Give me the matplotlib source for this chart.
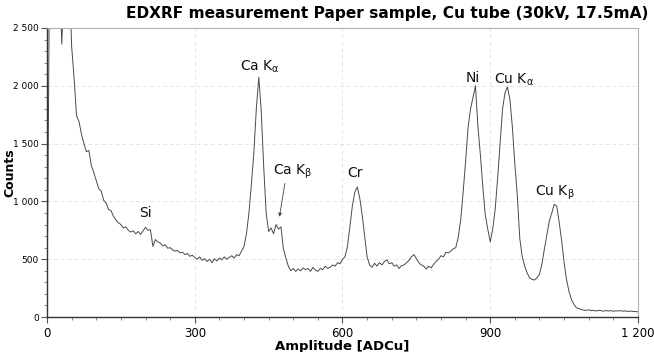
import numpy as np
import matplotlib
matplotlib.use("Agg")
import matplotlib.pyplot as plt
from matplotlib.ticker import FuncFormatter, MultipleLocator

plt.rcParams["mathtext.default"] = "regular"

# spectrum, one value every 5 channels (0..1200)
channel = np.arange(0, 1205, 5)
counts = [
    0, 3000, 3000, 3000, 3000, 3000, 2360, 3000, 3000, 3000,          # 0-45
    2340, 2060, 1740, 1690, 1580, 1500, 1430, 1440, 1310, 1250,       # 50-95
    1180, 1110, 1090, 1010, 985, 930, 920, 870, 840, 815,             # 100-145
    800, 770, 780, 750, 735, 745, 720, 740, 715, 745,                 # 150-195
    775, 750, 755, 610, 670, 650, 640, 615, 625, 595,                 # 200-245
    600, 580, 570, 575, 555, 560, 540, 550, 525, 535,                 # 250-295
    515, 500, 520, 490, 505, 480, 500, 470, 505, 485,                 # 300-345
    510, 495, 520, 500, 515, 530, 510, 540, 530, 570,                 # 350-395
    610, 720, 900, 1150, 1420, 1800, 2075, 1780, 1300, 900,           # 400-445
    740, 770, 720, 800, 760, 780, 590, 510, 440, 400,                 # 450-495
    420, 395, 415, 400, 425, 410, 420, 395, 430, 405,                 # 500-545
    395, 420, 410, 440, 420, 430, 450, 440, 470, 460,                 # 550-595
    500, 520, 610, 780, 960, 1080, 1125, 1030, 880, 700,              # 600-645
    520, 450, 430, 465, 440, 470, 450, 480, 495, 460,                 # 650-695
    470, 440, 450, 420, 445, 450, 470, 490, 520, 540,                 # 700-745
    505, 470, 450, 440, 415, 440, 425, 455, 480, 500,                 # 750-795
    530, 520, 560, 555, 570, 590, 600, 690, 840, 1080,                # 800-845
    1350, 1640, 1800, 1900, 2000, 1650, 1400, 1120, 880, 760,         # 850-895
    650, 760, 930, 1200, 1500, 1800, 1940, 1990, 1880, 1640,          # 900-945
    1320, 1050, 680, 520, 440, 380, 340, 325, 320, 340,               # 950-995
    370, 460, 590, 710, 830, 900, 975, 960, 820, 660,                 # 1000-1045
    470, 320, 220, 150, 110, 80, 72, 65, 60, 58,                      # 1050-1095
    62, 55, 58, 52, 57, 55, 50, 56, 52, 55,                           # 1100-1145
    50, 54, 52, 55, 50, 53, 48, 52, 48, 47,                           # 1150-1195
    45,                                                               # 1200
]

peak_labels = [r"Si", r"Ca K$_\alpha$", r"Ca K$_\beta$", r"Cr", r"Ni", r"Cu K$_\alpha$", r"Cu K$_\beta$"]
label_x = [199, 432, 498, 625, 864, 948, 1031]
label_y = [900, 2163, 1254, 1246, 2067, 2050, 1075]

fig = plt.figure(figsize=(6.54, 3.52), dpi=100)
ax = fig.add_axes([0.0719, 0.0994, 0.9036, 0.8211])

ax.plot(channel, counts, color="#4a4a4a", lw=0.7)

ax.set_xlim(0, 1200)
ax.set_ylim(0, 2500)
ax.xaxis.set_major_locator(MultipleLocator(300))
ax.xaxis.set_minor_locator(MultipleLocator(50))
ax.yaxis.set_major_locator(MultipleLocator(500))
ax.yaxis.set_minor_locator(MultipleLocator(100))
fmt = FuncFormatter(lambda v, p: f"{int(v):,}".replace(",", " "))
ax.xaxis.set_major_formatter(fmt)
ax.yaxis.set_major_formatter(fmt)
ax.tick_params(axis="x", labelsize=8.5, length=4, color="#555555", pad=3)
ax.tick_params(axis="y", labelsize=6.5, length=4, color="#555555", pad=2)
ax.tick_params(which="minor", length=2.5, color="#777777")
ax.grid(True, which="major", ls=(0, (4, 3)), color="#e4e4e4", lw=0.7)

for s in ["top", "right"]:
    ax.spines[s].set_color("#b0b0b0")
for s in ["left", "bottom"]:
    ax.spines[s].set_color("#333333")
    ax.spines[s].set_linewidth(1.0)

for t, x, y in zip(peak_labels, label_x, label_y):
    ax.text(x, y, t, ha="center", va="center", fontsize=10, color="#111111")

ax.annotate("", xy=(472, 867), xytext=(483, 1156),
            arrowprops=dict(arrowstyle="-|>", color="#444444", lw=0.6,
                            mutation_scale=5, shrinkA=0, shrinkB=0))

ax.set_xlabel("Amplitude [ADCu]", fontsize=9.5, fontweight="bold", labelpad=0)
fig.text(10 / 654, 0.51, "Counts", rotation=90, ha="center", va="center",
         fontsize=9, fontweight="bold")
fig.text(0.991, 0.963, "EDXRF measurement Paper sample, Cu tube (30kV, 17.5mA)",
         ha="right", va="center", fontsize=11.1, fontweight="bold")

fig.savefig("out.png", dpi=100)
